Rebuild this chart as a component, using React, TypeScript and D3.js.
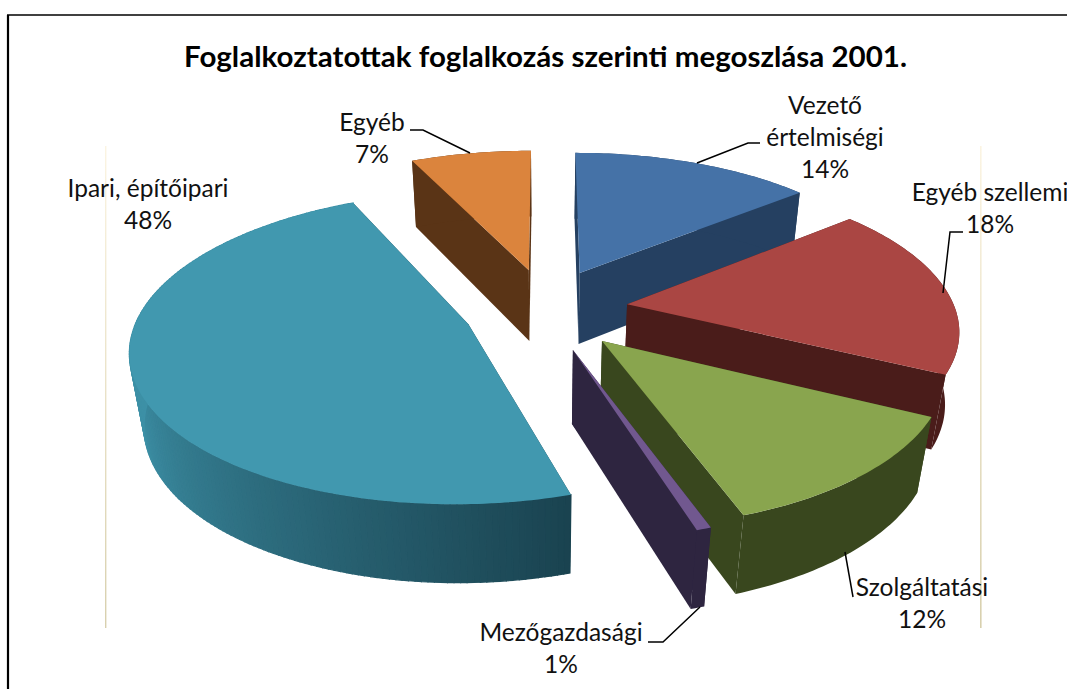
import React from "react";
import * as d3 from "d3";

const categories = ["Vezető értelmiségi", "Egyéb szellemi", "Szolgáltatási", "Mezőgazdasági", "Ipari, építőipari", "Egyéb"];
const shares = [14, 18.4, 12.2, 0.6, 47.8, 7];
const topColors = ["#4572a7", "#aa4643", "#89a54e", "#71588f", "#4198af", "#db843d"];
const wallFrom = ["#254061", "#4a1c1a", "#39471e", "#2e2540", "#1a4350", "#5a3416"];
const wallTo = ["#254061", "#4a1c1a", "#39471e", "#2e2540", "#3d90a6", "#5a3416"];
const drawOrder = [5, 0, 1, 4, 2, 3];
const labelLines = [["Vezető", "értelmiségi", "14%"], ["Egyéb szellemi", "18%"], ["Szolgáltatási", "12%"], ["Mezőgazdasági", "1%"], ["Ipari, építőipari", "48%"], ["Egyéb", "7%"]];
const labelAnchor = [[825, 114], [990, 201], [922, 596], [561, 641], [148, 197], [372, 131]];
const leaders = [
  [[697, 163], [748, 143], [760, 143]],
  [[943, 293], [950, 232], [963, 232]],
  [[845, 552], [853, 597]],
  [[700, 607], [663, 642], [648, 642]],
  [],
  [[470, 153], [423, 130], [410, 130]],
];

const R = 328, TILT_R = 148, PERSP = 0.15, DEPTHP = 0.035, H = 75, EXPLODE_U = 0.25, EXPLODE_V = 0.28, CX = 546, CY = 309;
const FONT = "Lato, 'Open Sans', sans-serif";

type P = [number, number];
const arcs = d3.pie<number>().sort(null).startAngle(0).endAngle(2 * Math.PI)(shares);
const line = d3.line<P>();

export default function App() {
  const slices = arcs.map((a, i) => {
    const mid = (a.startAngle + a.endAngle) / 2;
    const pt = (r: number, ang: number, z: number): P => {
      const U = EXPLODE_U * Math.sin(mid) + r * Math.sin(ang);
      const V = EXPLODE_V * Math.cos(mid) + r * Math.cos(ang);
      const k = 1 / (1 + PERSP * V + DEPTHP * z);
      return [CX + R * U * k, CY + (-TILT_R * V + H * z) * k];
    };
    const steps = Math.max(2, Math.ceil(((a.endAngle - a.startAngle) * 180) / Math.PI));
    const angs = d3.range(steps + 1).map((s) => a.startAngle + ((a.endAngle - a.startAngle) * s) / steps);
    const top = [pt(0, 0, 0), ...angs.map((t) => pt(1, t, 0))];
    const shade = d3.interpolateRgb(wallFrom[i], wallTo[i]);
    const uniform = wallFrom[i] === wallTo[i];
    const quads = uniform
      ? [{ d: line([...angs.map((t) => pt(1, t, 0)), ...angs.slice().reverse().map((t) => pt(1, t, 1))])! + "Z", fill: wallFrom[i] }]
      : d3.range(steps).map((s) => {
          const t0 = angs[s], t1 = angs[s + 1];
          const frac = Math.min(1, (s / steps) * 1.9);
          return { d: line([pt(1, t0, 0), pt(1, t1, 0), pt(1, t1, 1), pt(1, t0, 1)])! + "Z", fill: shade(frac) };
        });
    const startWall = line([pt(0, 0, 0), pt(1, a.startAngle, 0), pt(1, a.startAngle, 1), pt(0, 0, 1)])! + "Z";
    const endWall = line([pt(0, 0, 0), pt(1, a.endAngle, 0), pt(1, a.endAngle, 1), pt(0, 0, 1)])! + "Z";
    return { i, top: line(top)! + "Z", quads, startWall, endWall, uniform };
  });

  return (
    <svg width={1067} height={689} style={{ position: "absolute", left: 0, top: 0, background: "#fff" }}>
      <defs>
        <linearGradient id="rule" x1="0" y1="0" x2="0" y2="1">
          <stop offset="0" stopColor="#fbf4e2" />
          <stop offset="1" stopColor="#d8d0ae" />
        </linearGradient>
      </defs>
      <path d="M8,689V15" fill="none" stroke="#000" strokeWidth={2.2} />
      <path d="M7,15H1067" fill="none" stroke="#000" strokeWidth={1.6} />
      <rect x={105} y={146} width={1.4} height={482} fill="url(#rule)" />
      <rect x={980} y={146} width={1.6} height={482} fill="url(#rule)" />
      <text x={545.5} y={67} textAnchor="middle" fontFamily={FONT} fontWeight={700} fontSize={28} textLength={723} lengthAdjust="spacingAndGlyphs">
        Foglalkoztatottak foglalkozás szerinti megoszlása 2001.
      </text>
      {drawOrder.map((idx) => {
        const s = slices[idx];
        return (
          <g key={categories[idx]}>
            <path d={s.startWall} fill={wallFrom[idx]} />
            <path d={s.endWall} fill={wallFrom[idx]} />
            {s.quads.map((q, j) => (
              <path key={j} d={q.d} fill={q.fill} stroke={s.uniform ? "none" : q.fill} strokeWidth={1.2} />
            ))}
            <path d={s.top} fill={topColors[idx]} />
          </g>
        );
      })}
      {leaders.map((l, i) =>
        l.length ? <path key={i} d={line(l as P[])!} fill="none" stroke="#000" strokeWidth={1.5} /> : null
      )}
      {labelLines.map((lines, i) =>
        lines.map((t, j) => (
          <text key={t} x={labelAnchor[i][0]} y={labelAnchor[i][1] + j * 32} textAnchor="middle" fontFamily={FONT} fontSize={24.5} fill="#111">
            {t}
          </text>
        ))
      )}
    </svg>
  );
}
